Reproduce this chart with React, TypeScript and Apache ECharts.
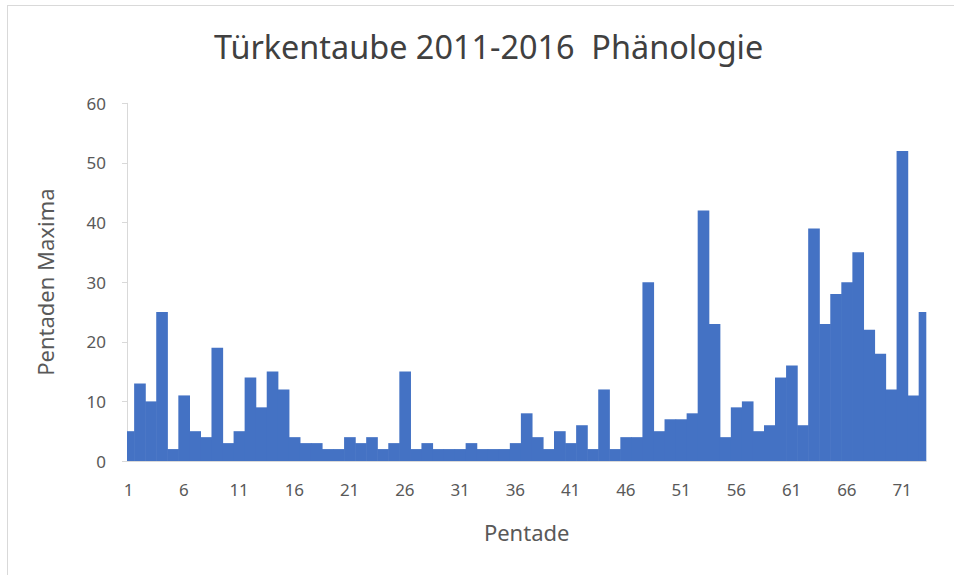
import React, { useEffect, useRef } from "react";
import * as echarts from "echarts";

const pentaden: number[] = Array.from({ length: 73 }, (_, i) => i + 1);
const maxima: number[] = [
  5, 13, 10, 25, 2, 11, 5, 4, 19, 3,
  5, 14, 9, 15, 12, 4, 3, 3, 2, 2,
  4, 3, 4, 2, 3, 15, 2, 3, 2, 2,
  2, 3, 2, 2, 2, 3, 8, 4, 2, 5,
  3, 6, 2, 12, 2, 4, 4, 30, 5, 7,
  7, 8, 42, 23, 4, 9, 10, 5, 6, 14,
  16, 6, 39, 23, 28, 30, 35, 22, 18, 12,
  52, 11, 25,
];
const xTickLabels: number[] = [1, 6, 11, 16, 21, 26, 31, 36, 41, 46, 51, 56, 61, 66, 71];
const yTicks: number[] = [0, 10, 20, 30, 40, 50, 60];

const titleText = "Türkentaube 2011-2016  Phänologie";
const xName = "Pentade";
const yName = "Pentaden Maxima";

export default function App() {
  const ref = useRef<HTMLDivElement>(null);
  useEffect(() => {
    if (!ref.current) return;
    const chart = echarts.init(ref.current, null, { renderer: "svg" });
    const font = "'Noto Sans', 'Open Sans', sans-serif";
    chart.setOption({
      animation: false,
      backgroundColor: "#ffffff",
      textStyle: { fontFamily: font },
      title: {
        text: titleText,
        left: 214,
        top: 30,
        padding: 0,
        textStyle: { fontFamily: font, fontSize: 32.4, fontWeight: "normal", color: "#404040" },
      },
      graphic: [
        { type: "line", shape: { x1: 7, y1: 5.5, x2: 954, y2: 5.5 }, style: { stroke: "#d9d9d9", lineWidth: 1 } },
        { type: "line", shape: { x1: 7.5, y1: 5, x2: 7.5, y2: 575 }, style: { stroke: "#d9d9d9", lineWidth: 1 } },
      ],
      grid: { left: 127, right: 27.7, top: 103.3, bottom: 114, containLabel: false },
      xAxis: {
        type: "value",
        min: 0.855,
        max: 73.19,
        name: xName,
        nameLocation: "middle",
        nameGap: 60,
        nameTextStyle: { fontFamily: font, fontSize: 22, color: "#595959" },
        axisLine: { show: true, lineStyle: { color: "#d9d9d9" } },
        axisTick: { show: false },
        splitLine: { show: false },
        axisLabel: {
          customValues: xTickLabels,
          fontFamily: font,
          fontSize: 17,
          color: "#595959",
          margin: 20,
        },
      },
      yAxis: {
        type: "value",
        min: 0,
        max: 60,
        interval: 10,
        name: yName,
        nameLocation: "middle",
        nameGap: 71,
        nameTextStyle: { fontFamily: font, fontSize: 22, color: "#595959" },
        axisLine: { show: true, lineStyle: { color: "#d9d9d9" } },
        axisTick: { show: true, inside: false, length: 5, lineStyle: { color: "#d9d9d9" } },
        splitLine: { show: false },
        axisLabel: {
          customValues: yTicks,
          fontFamily: font,
          fontSize: 17,
          color: "#595959",
          margin: 21,
        },
      },
      series: [
        {
          type: "custom",
          data: pentaden.map((p, i) => [p, maxima[i]]),
          encode: { x: 0, y: 1 },
          clip: true,
          renderItem: (params: any, api: any) => {
            const x = api.value(0);
            const y = api.value(1);
            const top = api.coord([x, y]);
            const base = api.coord([x, 0]);
            const w = api.size([1, 0])[0];
            const cs = params.coordSys;
            const shape = echarts.graphic.clipRectByRect(
              { x: top[0] - w / 2, y: top[1], width: w + 0.6, height: base[1] - top[1] },
              { x: cs.x, y: cs.y, width: cs.width, height: cs.height }
            );
            if (!shape) return null;
            return { type: "rect", shape, style: { fill: "#4472C4" } };
          },
        },
      ],
    });
    return () => chart.dispose();
  }, []);
  return (
    <div
      ref={ref}
      style={{ position: "absolute", left: 0, top: 0, width: 954, height: 575 }}
    />
  );
}
